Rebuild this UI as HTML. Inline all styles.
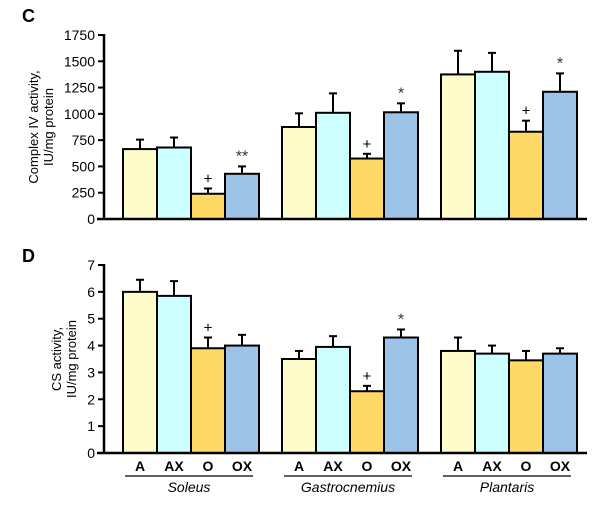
<!DOCTYPE html>
<html><head><meta charset="utf-8"><style>
body{margin:0;background:#fff}
svg{display:block;font-family:"Liberation Sans",Arial,sans-serif}
</style></head><body>
<svg id="chart" width="600" height="508" viewBox="0 0 600 508"></svg>
<script>
const groups = ["Soleus","Gastrocnemius","Plantaris"];
const cats = ["A","AX","O","OX"];
const colors = ["#fffccb","#ccffff","#ffd966","#9dc3e6"];
const cVals = [665,680,240,430, 875,1010,575,1015, 1375,1400,830,1210];
const cErr  = [90,95,50,70, 130,185,45,85, 225,180,105,175];
const cMarks = ["","","+","**", "","","+","*", "","","+","*"];
const cTicks = [0,250,500,750,1000,1250,1500,1750];
const dVals = [6.0,5.85,3.9,4.0, 3.5,3.95,2.3,4.3, 3.8,3.7,3.45,3.7];
const dErr  = [0.45,0.55,0.4,0.4, 0.3,0.4,0.2,0.3, 0.5,0.3,0.35,0.2];
const dMarks = ["","","+","", "","","+","*", "","","",""];
const dTicks = [0,1,2,3,4,5,6,7];

const svg = document.getElementById('chart');
const NS = "http://www.w3.org/2000/svg";
function mk(tag, attrs, parent){const e=document.createElementNS(NS,tag);for(const k in attrs)e.setAttribute(k,attrs[k]);(parent||svg).appendChild(e);return e;}
function xBar(i){const g=Math.floor(i/4),k=i%4;return 123+g*159+k*34;}
const BW=34;

function panel(name, y0, y1, max, vals, errs, marks, ticks, letter, title1, title2, ly, tx0){
  const g=mk('g',{});
  
  
  const ys=v=>y0-(v/max)*(y0-y1);
  const L=mk('text',{x:22,y:ly,'font-size':18,'font-weight':'bold'},g);L.textContent=letter;
  
  
  ticks.forEach(t=>{
    const y=ys(t);
    const tl=mk('line',{x1:98,x2:104,y1:y,y2:y,stroke:'#000','stroke-width':2},g);
    
    
    const tx=mk('text',{x:95,y:y+5,'text-anchor':'end','font-size':14},g);tx.textContent=t;
    
    
  });
  const yt=mk('text',{transform:`translate(${tx0},${(y0+y1)/2}) rotate(-90)`,'text-anchor':'middle','font-size':13},g);
  
  
  const t1=mk('tspan',{x:0,y:0},yt);t1.textContent=title1;
  const t2=mk('tspan',{x:0,y:15},yt);t2.textContent=title2;
  vals.forEach((v,i)=>{
    const x=xBar(i), y=ys(v), ye=ys(v+errs[i]), cx=x+BW/2;
    const el=mk('line',{x1:cx,x2:cx,y1:y,y2:ye,stroke:'#000','stroke-width':2},g);
    
    
    const ec=mk('line',{x1:cx-4,x2:cx+4,y1:ye,y2:ye,stroke:'#000','stroke-width':2},g);
    
    
    const r=mk('rect',{x:x,y:y,width:BW,height:y0-y,fill:colors[i%4],stroke:'#000','stroke-width':2},g);
    
    
    if(marks[i]){
      const m=mk('text',{x:cx,y:ye-5,'text-anchor':'middle','font-size':marks[i]==='+'?15:16,fill:marks[i]==='+'?'#000':'#333'},g);
      m.textContent=marks[i];
      
      
    }
  });
  const ax=mk('line',{x1:104,x2:104,y1:y0+1,y2:y1-1,stroke:'#000','stroke-width':2.5},g);
  
  
  const bl=mk('line',{x1:97,x2:587,y1:y0,y2:y0,stroke:'#000','stroke-width':2.5},g);
  
  
  return ys;
}
panel('panel-c-complex-iv',219,35,1750,cVals,cErr,cMarks,cTicks,'C','Complex IV activity,','IU/mg protein',22,38);
panel('panel-d-cs',453,265,7,dVals,dErr,dMarks,dTicks,'D','CS activity,','IU/mg protein',262,61);

groups.forEach((gn,g)=>{
  for(let k=0;k<4;k++){
    const t=mk('text',{x:xBar(g*4+k)+BW/2,y:471,'text-anchor':'middle','font-size':14,'font-weight':'bold'});
    t.textContent=cats[k];
    
    
  }
  const x0=xBar(g*4)+2, x1=xBar(g*4+3)+BW-6;
  const u=mk('line',{x1:x0,x2:x1,y1:476,y2:476,stroke:'#000','stroke-width':1.2});
  
  
  const n=mk('text',{x:(x0+x1)/2,y:492,'text-anchor':'middle','font-size':14,'font-style':'italic'});
  n.textContent=gn;
  
  
});
</script>
</body></html>
